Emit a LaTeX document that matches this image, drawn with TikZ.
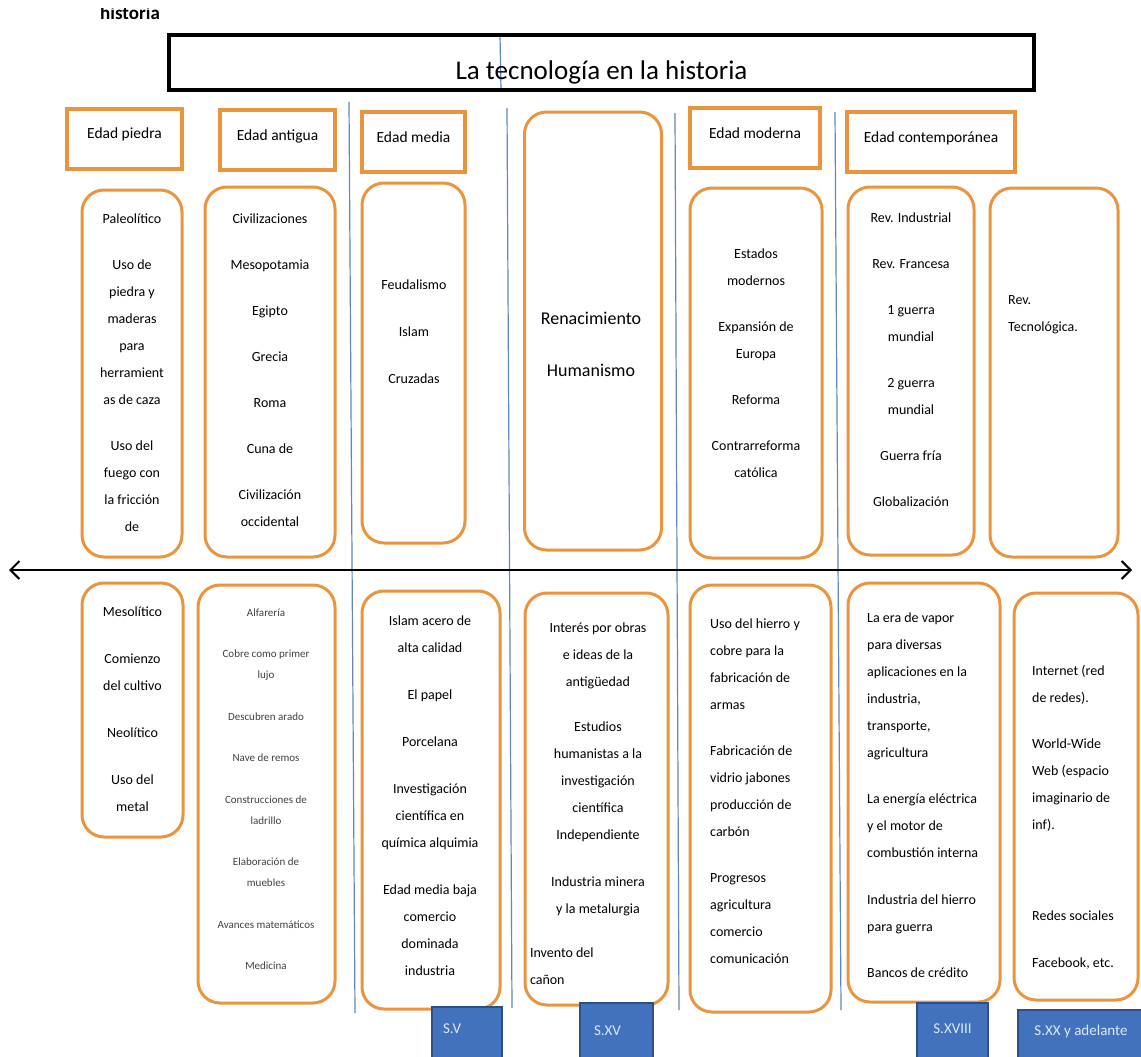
\documentclass[tikz,border=0pt]{standalone}
\usepackage{fontspec}
\setmainfont{Carlito}
\usepackage{tikz}
\usetikzlibrary{arrows.meta, positioning}
\definecolor{naranja}{RGB}{235, 148, 62}
\definecolor{azul}{RGB}{66, 114, 190}
\definecolor{azuloscuro}{RGB}{45, 80, 135}
\definecolor{azulclaro}{RGB}{220, 232, 246}
\definecolor{divisor}{RGB}{95, 135, 185}
\tikzset{
    titulo/.style={rectangle, draw=black, line width=3.5pt, minimum width=865pt, minimum height=55pt, font=\fontsize{27}{32}\selectfont, text height=35pt, text depth=0pt},
    epoca/.style={rectangle, draw=naranja, line width=3.5pt, minimum height=60pt, font=\fontsize{15.5}{18}\selectfont, text height=6pt, text depth=6pt},
    bloque/.style={rectangle, rounded corners=22pt, draw=naranja, line width=3pt},
    texto/.style={align=center, inner sep=0pt, font=\fontsize{14}{27}\selectfont},
    textoizq/.style={texto, align=left, anchor=west},
    textofino/.style={align=center, inner sep=0pt, font=\fontsize{11}{21}\selectfont, text=black!75},
    siglo/.style={rectangle, fill=azul, draw=azuloscuro, line width=1.5pt, text=azulclaro, font=\fontsize{15}{18}\selectfont, text height=6pt, text depth=6pt},
    linea/.style={draw=divisor, line width=1.2pt},
    eje/.style={line width=2pt, <->, >={Straight Barb[length=9pt, width=18pt]}}
}
\begin{document}
\begin{tikzpicture}[x=1pt, y=-1pt]
    \useasboundingbox (0,0) rectangle (1141,1057);

    % Cut heading
    \begin{scope}
        \clip (90,9) rectangle (180,30);
        \node[anchor=base west, inner sep=0pt, font=\fontsize{19}{22}\selectfont\bfseries] (cabecera) at (100,20) {historia};
    \end{scope}

    % Dividing lines
    \coordinate (div1a) at (349,102);  \coordinate (div1b) at (355,1013);
    \coordinate (div2a) at (500,35);   \coordinate (div2b) at (501,90);
    \coordinate (div2c) at (507,108);  \coordinate (div2d) at (512,1008);
    \coordinate (div3a) at (675,113);  \coordinate (div3b) at (679,1010);
    \coordinate (div4a) at (835,112);  \coordinate (div4b) at (841,1010);
    \draw[linea] (div1a) -- (div1b);
    \draw[linea] (div2a) -- (div2b);
    \draw[linea] (div2c) -- (div2d);
    \draw[linea] (div3a) -- (div3b);
    \draw[linea] (div4a) -- (div4b);

    % Title box
    \node[titulo] (titulo) at (601.5,62.5) {La tecnología en la historia};

    % Time axis
    \coordinate (ejeIzq) at (9,570);
    \coordinate (ejeDer) at (1132,570);
    \draw[eje] (ejeIzq) -- (ejeDer);

    % Ages
    \node[epoca, minimum width=115pt] (piedra) at (124.5,139) {Edad piedra};
    \node[epoca, minimum width=115pt] (antigua) at (277.5,140) {Edad antigua};
    \node[epoca, minimum width=103pt] (media) at (413.5,142) {Edad media};
    \node[epoca, minimum width=130pt] (moderna) at (755,138) {Edad moderna};
    \node[epoca, minimum width=168pt] (contemporanea) at (931,142) {Edad contemporánea};

    % Upper boxes
    \node[bloque, minimum width=100pt, minimum height=367pt] (piedraSup) at (132,373.5) {};
    \node[bloque, minimum width=130pt, minimum height=370pt] (antiguaSup) at (270,372) {};
    \node[bloque, minimum width=103pt, minimum height=360pt] (mediaSup) at (413.5,363) {};
    \node[bloque, minimum width=137pt, minimum height=438pt] (renacimiento) at (593,331) {};
    \node[bloque, minimum width=132pt, minimum height=370pt] (modernaSup) at (756,373) {};
    \node[bloque, minimum width=126pt, minimum height=368pt] (contempSup) at (911,371) {};
    \node[bloque, minimum width=128pt, minimum height=369pt] (tecnoSup) at (1054,372.5) {};

    \node[texto] (piedraSupTxt) at (132,373) {Paleolítico\\[19pt] Uso de\\piedra y\\maderas\\para\\herramient\\as de caza\\[19pt] Uso del\\fuego con\\la fricción\\de};
    \node[texto] (antiguaSupTxt) at (270,370.5) {Civilizaciones\\[19pt] Mesopotamia\\[19pt] Egipto\\[19pt] Grecia\\[19pt] Roma\\[19pt] Cuna de\\[19pt] Civilización\\occidental};
    \node[texto] (mediaSupTxt) at (414,331.5) {Feudalismo\\[20pt] Islam\\[20pt] Cruzadas};
    \node[texto, font=\fontsize{18}{22}\selectfont] (renacTxt) at (591,344) {Renacimiento\\[30pt] Humanismo};
    \node[texto] (modernaSupTxt) at (756,363) {Estados\\modernos\\[19pt] Expansión de\\Europa\\[19pt] Reforma\\[19pt] Contrarreforma\\católica};
    \node[texto] (contempSupTxt) at (911,360) {Rev. Industrial\\[19pt] Rev. Francesa\\[19pt] 1 guerra\\mundial\\[19pt] 2 guerra\\mundial\\[19pt] Guerra fría\\[19pt] Globalización};
    \node[textoizq] (tecnoSupTxt) at (1008,315) {Rev.\\Tecnológica.};

    % Lower boxes
    \node[bloque, minimum width=101pt, minimum height=254pt] (piedraInf) at (132.5,710) {};
    \node[bloque, minimum width=137pt, minimum height=418pt] (antiguaInf) at (266.5,794) {};
    \node[bloque, minimum width=138pt, minimum height=418pt] (mediaInf) at (431,800) {};
    \node[bloque, minimum width=143pt, minimum height=412pt] (renacInf) at (596.5,799) {};
    \node[bloque, minimum width=141pt, minimum height=427pt] (modernaInf) at (760.5,798.5) {};
    \node[bloque, minimum width=152pt, minimum height=419pt] (contempInf) at (924,792.5) {};
    \node[bloque, minimum width=124pt, minimum height=407pt] (tecnoInf) at (1076,796.5) {};

    \node[texto] (piedraInfTxt) at (132.5,709.5) {Mesolítico\\[20pt] Comienzo\\del cultivo\\[20pt] Neolítico\\[20pt] Uso del\\metal};
    \node[textofino] (antiguaInfTxt) at (266,789) {Alfarería\\[20.5pt] Cobre como primer\\lujo\\[20.5pt] Descubren arado\\[20.5pt] Nave de remos\\[20.5pt] Construcciones de\\ladrillo\\[20.5pt] Elaboración de\\muebles\\[20.5pt] Avances matemáticos\\[20.5pt] Medicina};
    \node[texto] (mediaInfTxt) at (430,796) {Islam acero de\\alta calidad\\[20pt] El papel\\[20pt] Porcelana\\[20pt] Investigación\\científica en\\química alquimia\\[20pt] Edad media baja\\comercio\\dominada\\industria};
    \node[texto] (renacInfTxt) at (598,803.5) {Interés por obras\\e ideas de la\\antigüedad\\[18pt] Estudios\\humanistas a la\\investigación\\científica\\Independiente\\[20pt] Industria minera\\y la metalurgia\\[17pt] \makebox[136pt][l]{Invento del}\\\makebox[136pt][l]{cañon}};
    \node[textoizq] (modernaInfTxt) at (710,791) {Uso del hierro y\\cobre para la\\fabricación de\\armas\\[19pt] Fabricación de\\vidrio jabones\\producción de\\carbón\\[19pt] Progresos\\agricultura\\comercio\\comunicación};
    \node[textoizq] (contempInfTxt) at (867,795) {La era de vapor\\para diversas\\aplicaciones en la\\industria,\\transporte,\\agricultura\\[19pt] La energía eléctrica\\y el motor de\\combustión interna\\[20pt] Industria del hierro\\para guerra\\[19pt] Bancos de crédito};
    \node[textoizq] (tecnoInfTxt) at (1032,817) {Internet (red\\de redes).\\[19pt] World-Wide\\Web (espacio\\imaginario de\\inf).\\[64pt] Redes sociales\\[20pt] Facebook, etc.};

    % Century tags
    \node[siglo, minimum height=52pt, align=left, text width=48pt, inner xsep=11pt] (sv) at (467,1033) {S.V};
    \node[siglo, minimum height=64pt, align=left, text width=45pt, inner xsep=14pt] (sxv) at (616.5,1035) {S.XV};
    \node[siglo, minimum width=71pt, minimum height=60pt] (sxviii) at (952.5,1033) {S.XVIII};
    \node[siglo, minimum width=126pt, minimum height=50pt] (sxx) at (1081,1035) {S.XX y adelante};
\end{tikzpicture}
\end{document}
